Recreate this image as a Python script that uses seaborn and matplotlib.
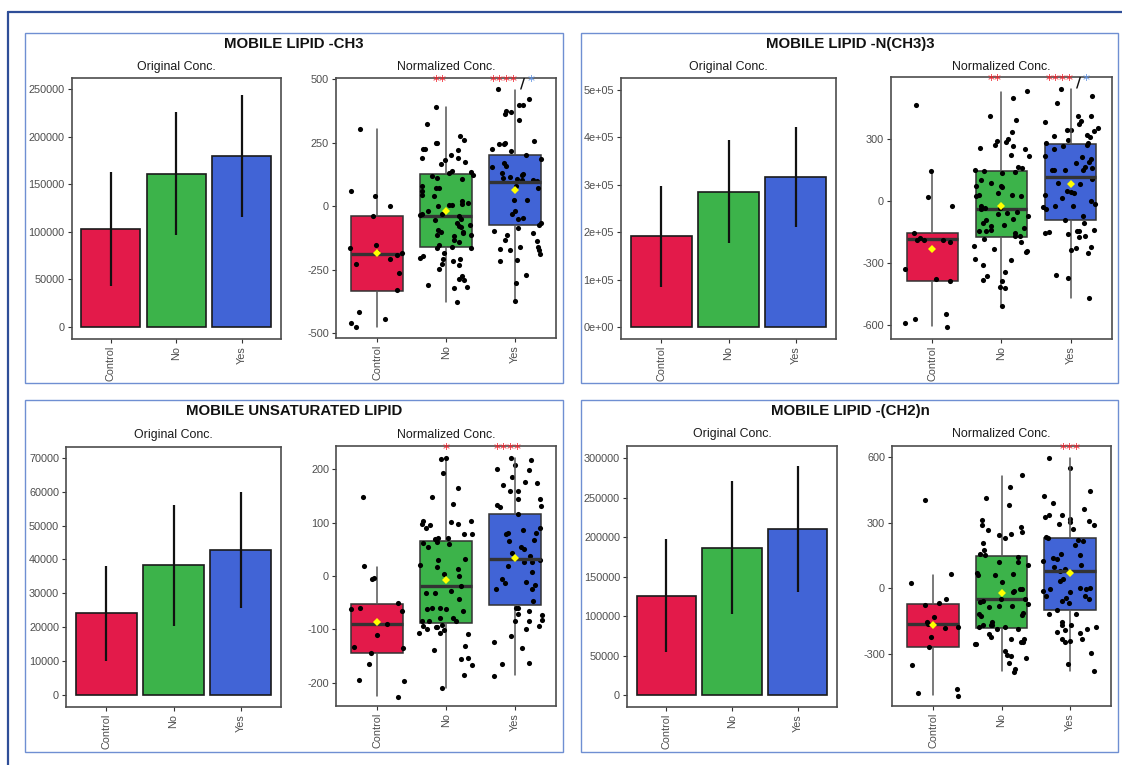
import numpy as np
import pandas as pd
import matplotlib
matplotlib.use("Agg")
import matplotlib.pyplot as plt
from matplotlib.patches import Rectangle
from matplotlib.lines import Line2D
import seaborn as sns

sns.set_theme(style="white")
plt.rcParams["font.family"] = ["Liberation Sans", "DejaVu Sans"]
plt.rcParams["axes.unicode_minus"] = False

groups = ["Control", "No", "Yes"]

# ---------------- MOBILE LIPID -CH3 ----------------
ch3_orig_mean = [103200, 161200, 179800]
ch3_orig_sd = [60000, 64600, 64300]
ch3_orig_ticks = [0, 50000, 100000, 150000, 200000, 250000]
ch3_orig_labels = ["0", "50000", "100000", "150000", "200000", "250000"]

ch3_q1 = [-332, -160, -75]
ch3_median = [-187, -37, 95]
ch3_q3 = [-37, 128, 201]
ch3_whislo = [-474, -378, -368]
ch3_whishi = [303, 392, 458]
ch3_mean = [-184, -17, 66]
ch3_norm_ticks = [-500, -250, 0, 250, 500]

ch3_control = [305, 62, 42, 0, -37, -153, -164, -178, -184, -190, -207, -226,
               -264, -329, -414, -442, -458, -475]
ch3_no = [392, 325, 276, 263, 250, 250, 224, 226, 221, 204, 191, 184, 168, 176,
          191, 138, 132, 134, 125, 112, 121, 109, 82, 72, 59, 72, 46, 39, 20, 13,
          11, 5, 4, 0, -20, -29, -39, -29, -36, -50, -55, -66, -79, -72, -99, -92,
          -99, -83, -118, -105, -132, -112, -112, -142, -162, -162, -158, -151,
          -184, -197, -204, -207, -207, -216, -230, -226, -247, -309, -276, -289,
          -287, -316, -322, -375]
ch3_yes = [461, 424, 375, 372, 364, 339, 399, 399, 250, 247, 257, 247, 217, 224,
           171, 155, 158, 204, 187, 125, 132, 129, 105, 103, 108, 99, 116, 112, 79,
           72, 24, 24, -20, -46, -29, -50, -66, -72, -105, -96, -86, -112, -138,
           -132, -158, -168, -171, -188, -161, -171, -211, -214, -270, -300, -371]
ch3_sig = {"No": "**", "Yes": "****"}
ch3_sig_second = "*"

# ---------------- MOBILE LIPID -N(CH3)3 ----------------
n_orig_mean = [191000, 285100, 316000]
n_orig_sd = [106000, 109000, 105000]
n_orig_ticks = [0, 100000, 200000, 300000, 400000, 500000]
n_orig_labels = ["0e+00", "1e+05", "2e+05", "3e+05", "4e+05", "5e+05"]

n_q1 = [-387, -173, -89]
n_median = [-185, -37, 116]
n_q3 = [-156, 145, 274]
n_whislo = [-605, -508, -469]
n_whishi = [140, 529, 540]
n_mean = [-229, -24, 85]
n_norm_ticks = [-600, -300, 0, 300]

n_control = [465, 148, 21, -21, -156, -189, -177, -190, -190, -198, -326, -374,
             -387, -545, -568, -589, -608]
n_no = [532, 500, 411, 390, 334, 273, 298, 290, 285, 269, 258, 253, 218, 221, 166,
        153, 148, 161, 140, 137, 102, 73, 68, 89, 73, 40, 32, 27, 32, 24, -24, -37,
        -32, -32, -53, -56, -60, -73, -85, -89, -105, -116, -121, -129, -145, -140,
        -142, -156, -166, -169, -185, -198, -218, -229, -239, -245, -279, -282,
        -310, -342, -363, -379, -387, -421, -413, -508]
n_yes = [542, 508, 476, 411, 411, 387, 382, 371, 355, 344, 339, 342, 315, 318, 282,
         279, 273, 294, 310, 269, 250, 202, 186, 190, 218, 215, 166, 153, 153, 150,
         161, 153, 105, 89, 81, 48, 45, 40, 32, 3, 16, -24, -29, -40, -16, -24, -73,
         -89, -105, -145, -140, -142, -153, -150, -169, -161, -226, -223, -234,
         -250, -174, -371, -355, -468]
n_sig = {"No": "**", "Yes": "****"}
n_sig_second = "*"

# ---------------- MOBILE UNSATURATED LIPID ----------------
un_orig_mean = [24100, 38300, 42800]
un_orig_sd = [14100, 17800, 17100]
un_orig_ticks = [0, 10000, 20000, 30000, 40000, 50000, 60000, 70000]
un_orig_labels = ["0", "10000", "20000", "30000", "40000", "50000", "60000", "70000"]

un_q1 = [-144, -88, -54]
un_median = [-90, -18, 32]
un_q3 = [-52, 66, 117]
un_whislo = [-226, -210, -186]
un_whishi = [16, 221, 221]
un_mean = [-87, -8, 33]
un_norm_ticks = [-200, -100, 0, 100, 200]

un_control = [148, -4, -6, 18, -51, -60, -62, -66, -90, -111, -135, -144, -133,
              -166, -195, -197, -227]
un_no = [222, 219, 194, 166, 148, 135, 90, 96, 104, 104, 98, 101, 97, 79, 79, 71,
         64, 71, 62, 60, 54, 69, 32, 30, 16, 13, 20, 3, 0, -19, -60, -32, -32, -28,
         -62, -66, -62, -85, -79, -79, -85, -92, -94, -44, -60, -95, -107, -107,
         -102, -108, -99, -131, -138, -155, -185, -154, -167, -210, -85, -95]
un_yes = [217, 221, 209, 199, 200, 185, 174, 176, 171, 160, 160, 145, 144, 131, 133,
          130, 117, 87, 90, 80, 80, 78, 68, 66, 51, 44, 54, 38, 30, 19, 27, 27, -11,
          8, -6, -13, -25, -24, -17, -46, -65, -60, -60, -71, -73, -82, -85, -85,
          -94, -100, -112, -123, -136, -164, -166, -188]
un_sig = {"No": "*", "Yes": "****"}

# ---------------- MOBILE LIPID -(CH2)n ----------------
ch2_orig_mean = [125900, 186800, 210400]
ch2_orig_sd = [72000, 84000, 80000]
ch2_orig_ticks = [0, 50000, 100000, 150000, 200000, 250000, 300000]
ch2_orig_labels = ["0", "50000", "100000", "150000", "200000", "250000", "300000"]

ch2_q1 = [-271, -184, -100]
ch2_median = [-164, -52, 78]
ch2_q3 = [-72, 147, 231]
ch2_whislo = [-488, -381, -381]
ch2_whishi = [58, 514, 594]
ch2_mean = [-167, -23, 70]
ch2_norm_ticks = [-300, 0, 300, 600]

ch2_control = [63, 24, -52, -77, 403, -69, -156, -164, -133, -184, -176, -225,
               -271, -351, -481, -493, -462]
ch2_no = [517, 464, 413, 380, 311, 242, 257, 265, 250, 280, 291, 230, 208, 173, 158,
          150, 119, 142, 107, 119, 58, 28, 69, 66, 58, -3, -11, -3, -18, -84, -49,
          -122, -118, -80, -49, -64, -58, -72, -87, -115, -168, -126, -156, -171,
          -187, -171, -176, -179, -187, -210, -233, -248, -256, -248, -233, -256,
          -225, -286, -306, -309, -343, -321, -383, -370]
ch2_yes = [598, 548, 444, 422, 392, 334, 308, 326, 315, 303, 364, 334, 291, 294, 272,
           234, 196, 219, 214, 230, 158, 153, 138, 122, 135, 107, 86, 78, 96, 31, 40,
           -3, 2, -18, 0, -15, -37, -3, -34, -46, -57, -52, -67, -100, -119, -119,
           -153, -171, -168, -179, -193, -187, -207, -199, -240, -248, -233, -233,
           -298, -347, -378]
ch2_sig = {"Yes": "***"}

# ---------------- styling ----------------
FILL = {"Control": "#E31A4A", "No": "#3CB34A", "Yes": "#4164D6"}
STAR_RED = "#F0202A"
STAR_BLUE = "#5B8FE0"
PANEL_EDGE = "#6F8FD2"
OUTER_EDGE = "#2F4E98"
TICK_COLOR = "#4D4D4D"

W, H = 1122, 765
fig = plt.figure(figsize=(W / 100, H / 100), dpi=100)


def px_axes(l, t, r, b):
    return fig.add_axes([l / W, 1 - b / H, (r - l) / W, (b - t) / H])


def style_ax(ax):
    for s in ax.spines.values():
        s.set_visible(True)
        s.set_color("#4D4D4D")
        s.set_linewidth(1.2)
    ax.tick_params(axis="both", which="both", length=3, width=0.8, color="#333333",
                   labelsize=7.8, labelcolor=TICK_COLOR, pad=2,
                   bottom=True, left=True, top=False, right=False)
    ax.tick_params(axis="x", labelrotation=90)
    ax.set_xlabel("")
    ax.set_ylabel("")
    ax.grid(False)


def draw_bars(ax, means, sds, ticks, labels, ylim):
    sns.barplot(x=groups, y=means, hue=groups, palette=FILL, saturation=1, width=0.9,
                edgecolor="#1A1A1A", linewidth=1.2, errorbar=None, legend=False, ax=ax)
    ax.errorbar(np.arange(len(groups)), means, yerr=sds, fmt="none", ecolor="#111111",
                elinewidth=1.6, capsize=0, zorder=4)
    ax.set_xlim(-0.6, 2.6)
    ax.set_ylim(*ylim)
    ax.set_yticks(ticks)
    ax.set_yticklabels(labels)
    ax.set_xticks(range(len(groups)))
    ax.set_xticklabels(groups)
    style_ax(ax)


def draw_box(ax, pts, q1, med, q3, wlo, whi, mean, ticks, ylim, seed):
    stats = [dict(med=m, q1=a, q3=b, whislo=lo, whishi=hi, fliers=[], label=g)
             for g, a, m, b, lo, hi in zip(groups, q1, med, q3, wlo, whi)]
    bp = ax.bxp(stats, positions=np.arange(len(groups)), widths=0.75, patch_artist=True,
                showfliers=False, showcaps=False, manage_ticks=False,
                boxprops=dict(edgecolor="#333333", linewidth=1.1),
                medianprops=dict(color="#333333", linewidth=2.4, solid_capstyle="butt"),
                whiskerprops=dict(color="#555555", linewidth=1.1))
    for patch, g in zip(bp["boxes"], groups):
        patch.set_facecolor(FILL[g])
        patch.set_zorder(1)
    df = pd.DataFrame({"group": np.repeat(groups, [len(p) for p in pts]),
                       "value": np.concatenate(pts)})
    np.random.seed(seed)
    sns.stripplot(data=df, x="group", y="value", order=groups, color="black", size=3.7,
                  jitter=0.4, linewidth=0, ax=ax, zorder=3)
    sns.pointplot(x=groups, y=mean, order=groups, color="#FFFF00", markers="D",
                  linestyles="none", markersize=4.2, markeredgewidth=0, errorbar=None,
                  ax=ax)
    for ln in ax.lines[-3:]:
        ln.set_zorder(5)
    ax.set_xlim(-0.6, 2.6)
    ax.set_ylim(*ylim)
    ax.set_yticks(ticks)
    ax.set_yticklabels([str(t) for t in ticks])
    ax.set_xticks(range(len(groups)))
    ax.set_xticklabels(groups)
    style_ax(ax)


def star(ax, x, text, color, ha="center", dy=-5.0, size=10, weight="normal"):
    ax.annotate(text, xy=(x, ax.get_ylim()[1]), xycoords="data", xytext=(0, dy),
                textcoords="offset points", ha=ha, va="baseline", color=color,
                fontsize=size, fontweight=weight, family="DejaVu Sans",
                annotation_clip=False, zorder=6)


def frame(l, t, r, b):
    fig.add_artist(Rectangle((l / W, 1 - b / H), (r - l) / W, (b - t) / H,
                             transform=fig.transFigure, fill=False,
                             edgecolor=PANEL_EDGE, linewidth=1.0))


def heading(cx, cy, text, bold=False, size=8.9):
    fig.text(cx / W, 1 - cy / H, text, ha="center", va="center", fontsize=size,
             fontweight="bold" if bold else "normal", color="#111111" if bold else "#1A1A1A")


# outer frame lines
fig.add_artist(Line2D([8 / W, 8 / W], [0, 1 - 12 / H], transform=fig.transFigure,
                      color=OUTER_EDGE, linewidth=1.6))
fig.add_artist(Line2D([8 / W, 1], [1 - 12 / H, 1 - 12 / H], transform=fig.transFigure,
                      color=OUTER_EDGE, linewidth=1.6))

TITLE_SIZE = 10.8

# ---- panel: MOBILE LIPID -CH3 ----
frame(25, 33, 563, 383)
heading(294, 44, "MOBILE LIPID -CH3", bold=True, size=TITLE_SIZE)
ax = px_axes(71.6, 78, 281, 339)
draw_bars(ax, ch3_orig_mean, ch3_orig_sd, ch3_orig_ticks, ch3_orig_labels, (-12600, 261600))
heading((71.6 + 281) / 2, 67, "Original Conc.")
ax = px_axes(336, 78, 556, 338)
draw_box(ax, [ch3_control, ch3_no, ch3_yes], ch3_q1, ch3_median, ch3_q3, ch3_whislo,
         ch3_whishi, ch3_mean, ch3_norm_ticks, (-518, 505), 11)
heading(446, 67, "Normalized Conc.")
star(ax, 1 - 0.09, ch3_sig["No"], STAR_RED)
star(ax, 2 + 0.045, ch3_sig["Yes"], STAR_RED, ha="right")
star(ax, 2 + 0.11, "/", "#111111", dy=-7, size=10, weight="bold")
star(ax, 2 + 0.23, ch3_sig_second, STAR_BLUE)

# ---- panel: MOBILE LIPID -N(CH3)3 ----
frame(581, 33, 1118, 383)
heading(850, 44, "MOBILE LIPID -N(CH3)3", bold=True, size=TITLE_SIZE)
ax = px_axes(621, 78, 836, 339)
draw_bars(ax, n_orig_mean, n_orig_sd, n_orig_ticks, n_orig_labels, (-25300, 524600))
heading((621 + 836) / 2, 67, "Original Conc.")
ax = px_axes(891, 77, 1112, 339)
draw_box(ax, [n_control, n_no, n_yes], n_q1, n_median, n_q3, n_whislo, n_whishi,
         n_mean, n_norm_ticks, (-666, 600), 22)
heading((891 + 1112) / 2, 67, "Normalized Conc.")
star(ax, 1 - 0.1, n_sig["No"], STAR_RED)
star(ax, 2 + 0.045, n_sig["Yes"], STAR_RED, ha="right")
star(ax, 2 + 0.11, "/", "#111111", dy=-7, size=10, weight="bold")
star(ax, 2 + 0.22, n_sig_second, STAR_BLUE)

# ---- panel: MOBILE UNSATURATED LIPID ----
frame(25, 400, 563, 752)
heading(294, 411, "MOBILE UNSATURATED LIPID", bold=True, size=TITLE_SIZE)
ax = px_axes(66, 447, 281, 707)
draw_bars(ax, un_orig_mean, un_orig_sd, un_orig_ticks, un_orig_labels, (-3540, 73160))
heading((66 + 281) / 2, 435, "Original Conc.")
ax = px_axes(336, 446, 556, 706)
draw_box(ax, [un_control, un_no, un_yes], un_q1, un_median, un_q3, un_whislo, un_whishi,
         un_mean, un_norm_ticks, (-244, 244), 33)
heading(446, 435, "Normalized Conc.")
star(ax, 1, un_sig["No"], STAR_RED)
star(ax, 2 - 0.1, un_sig["Yes"], STAR_RED)

# ---- panel: MOBILE LIPID -(CH2)n ----
frame(581, 400, 1118, 752)
heading(850, 411, "MOBILE LIPID -(CH2)n", bold=True, size=TITLE_SIZE)
ax = px_axes(627, 446, 837, 707)
draw_bars(ax, ch2_orig_mean, ch2_orig_sd, ch2_orig_ticks, ch2_orig_labels, (-15200, 315600))
heading((627 + 837) / 2, 434, "Original Conc.")
ax = px_axes(892, 446, 1111, 706)
draw_box(ax, [ch2_control, ch2_no, ch2_yes], ch2_q1, ch2_median, ch2_q3, ch2_whislo,
         ch2_whishi, ch2_mean, ch2_norm_ticks, (-540, 651), 44)
heading((892 + 1111) / 2, 434, "Normalized Conc.")
star(ax, 2, ch2_sig["Yes"], STAR_RED)

fig.savefig("out.png", dpi=100, facecolor="white")
